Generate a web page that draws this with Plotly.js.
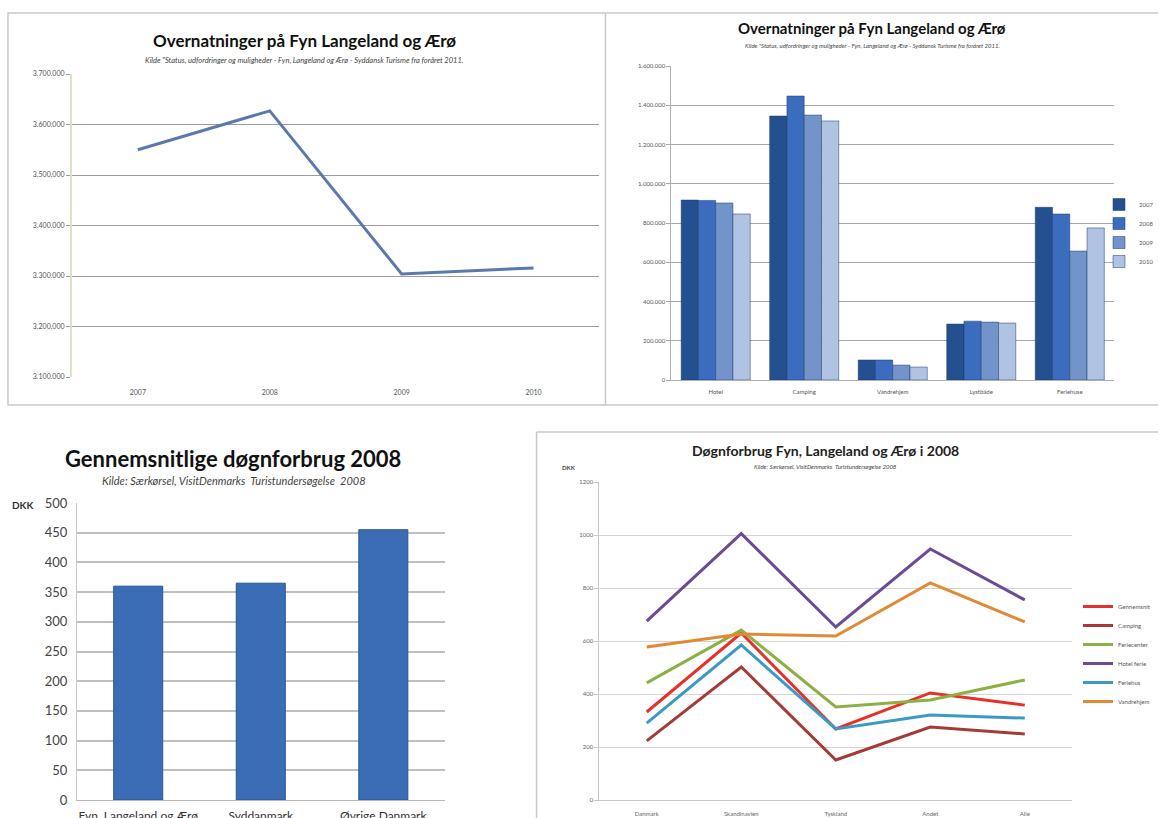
<!DOCTYPE html>
<html><head><meta charset="utf-8">
<script src="https://cdn.plot.ly/plotly-3.0.1.min.js"></script>
<style>html,body{margin:0;padding:0;background:#fff;}#c{width:1159px;height:818px;}</style>
</head><body><div id="c"></div>
<script>
// ---- data ----
const years = ['2007','2008','2009','2010'];
const overnightsTotal = [3550000, 3627000, 3304000, 3316000];

const accTypes = ['Hotel','Camping','Vandrehjem','Lystbåde','Feriehuse'];
const ov2007 = [917000, 1345000, 102000, 285000, 880000];
const ov2008 = [915000, 1447000, 102000, 300000, 846000];
const ov2009 = [902000, 1350000, 76000, 295000, 657000];
const ov2010 = [846000, 1320000, 66000, 290000, 775000];

const regions = ['Fyn, Langeland og Ærø','Syddanmark','Øvrige Danmark'];
const avgSpend = [360, 365, 455];

const markets = ['Danmark','Skandinavien','Tyskland','Andet','Alle'];
const spGennemsnit = [332, 630, 268, 404, 358];
const spCamping = [223, 502, 151, 275, 249];
const spFeriecenter = [442, 641, 351, 377, 453];
const spHotelferie = [675, 1005, 653, 947, 755];
const spFeriehus = [290, 585, 268, 321, 309];
const spVandrehjem = [577, 626, 619, 819, 672];

// ---- helpers ----
const W = 1159, H = 818;
const xd = (a,b) => [a/W, b/W];
const yd = (top,bottom) => [1-bottom/H, 1-top/H];
const px = x => x/W, py = y => 1-y/H;
const F = 'Lato, "Open Sans", sans-serif';

const traces = [];
// chart 1
traces.push({x: years, y: overnightsTotal, type:'scatter', mode:'lines', xaxis:'x', yaxis:'y',
  line:{color:'#5b79ad', width:3}, showlegend:false});
// chart 2
const barCols = ['#24508f','#3b6cbd','#7394cb','#b0c3e3'];
[ov2007, ov2008, ov2009, ov2010].forEach((v,i)=>{
  traces.push({x: accTypes, y: v, type:'bar', name: years[i], xaxis:'x2', yaxis:'y2',
    marker:{color: barCols[i], line:{color:'#1c3a6a', width:0.5}}, legend:'legend'});
});
// chart 3
traces.push({x: regions, y: avgSpend, type:'bar', xaxis:'x3', yaxis:'y3', width:0.4,
  marker:{color:'#3a6db5', line:{color:'#2a558f', width:1}}, showlegend:false});
// chart 4
const lineSeries = [
  ['Gennemsnit', spGennemsnit, '#e8302a'],
  ['Camping', spCamping, '#a53b37'],
  ['Feriecenter', spFeriecenter, '#8cb044'],
  ['Hotel ferie', spHotelferie, '#6b4a97'],
  ['Feriehus', spFeriehus, '#3b9ac4'],
  ['Vandrehjem', spVandrehjem, '#e08a36']
];
lineSeries.forEach(s=>{
  traces.push({x: markets, y: s[1], name: s[0], type:'scatter', mode:'lines', xaxis:'x4', yaxis:'y4',
    line:{color:s[2], width:3}, legend:'legend2'});
});

const tickF = (s,c)=>({family:F, size:s, color:c||'#555'});
const ann = (text, x, y, size, color) => ({text, x:px(x), y:py(y), xref:'paper', yref:'paper',
  xanchor:'center', yanchor:'middle', showarrow:false, font:{family:F, size, color}});

const layout = {
  width: W, height: H, autosize:false,
  margin:{l:0,r:0,t:0,b:0}, paper_bgcolor:'#fff', plot_bgcolor:'rgba(0,0,0,0)',
  separators: ',.',
  bargap: 0.22, bargroupgap: 0,
  font:{family:F},
  // chart 1
  xaxis:{domain: xd(72,600), anchor:'y', type:'category', range:[-0.5, years.length-0.5], showgrid:false, showline:false, zeroline:false,
    tickfont: tickF(7), ticks:'', ticklabelstandoff: 10},
  yaxis:{domain: yd(74,377), anchor:'x', range:[3100000,3700000], dtick:100000, tickformat:',d',
    gridcolor:'#9c9c9c', gridwidth:1, showline:true, linecolor:'#dfe3c6', linewidth:2, zeroline:false,
    ticks:'outside', ticklen:4, tickcolor:'#9c9c9c', tickfont: tickF(7)},
  // chart 2
  xaxis2:{domain: xd(672,1115), anchor:'y2', type:'category', showgrid:false, showline:true, linecolor:'#b0b0b0',
    tickfont: tickF(6), ticks:'', ticklabelstandoff: 6},
  yaxis2:{domain: yd(66,380), anchor:'x2', range:[0,1600000], dtick:200000, tickformat:',d',
    gridcolor:'#a8a8a8', showline:true, linecolor:'#b0b0b0', zeroline:false,
    ticks:'outside', ticklen:4, tickcolor:'#a8a8a8', tickfont: tickF(6)},
  // chart 3
  xaxis3:{domain: xd(77,445), anchor:'y3', type:'category', showgrid:false, showline:true, linecolor:'#b8b8b8',
    tickfont: tickF(12,'#333'), ticks:'', ticklabelstandoff: 5},
  yaxis3:{domain: yd(503,800), anchor:'x3', range:[0,500], dtick:50,
    gridcolor:'#c0c0c0', gridwidth:2, showline:true, linecolor:'#c8c8c8', zeroline:false,
    ticks:'', tickfont: tickF(13,'#444'), ticklabelstandoff: 6},
  // chart 4
  xaxis4:{domain: xd(600,1073), anchor:'y4', type:'category', range:[-0.5, markets.length-0.5], showgrid:false, showline:true, linecolor:'#c8c8c8',
    tickfont: tickF(6,'#666'), ticks:'', ticklabelstandoff: 8},
  yaxis4:{domain: yd(482,800), anchor:'x4', range:[0,1200], dtick:200,
    gridcolor:'#d4d4d4', showline:true, linecolor:'#c8c8c8', zeroline:false,
    ticks:'outside', ticklen:4, tickcolor:'#c8c8c8', tickfont: tickF(6,'#666')},
  legend:{x: px(1100), y: py(190), xanchor:'left', yanchor:'top', font:{family:F, size:6, color:'#555'},
    bgcolor:'rgba(0,0,0,0)', itemwidth:30, tracegroupgap:0},
  legend2:{x: px(1078), y: py(592), xanchor:'left', yanchor:'top', font:{family:F, size:6, color:'#555'},
    bgcolor:'rgba(0,0,0,0)', itemwidth:30, tracegroupgap:0},
  shapes:[
    {type:'rect', xref:'paper', yref:'paper', x0:px(8), x1:px(606), y0:py(405), y1:py(13), line:{color:'#c8c8c8', width:1.5}},
    {type:'line', xref:'paper', yref:'paper', x0:px(606), x1:px(1159), y0:py(13), y1:py(13), line:{color:'#c8c8c8', width:1.5}},
    {type:'line', xref:'paper', yref:'paper', x0:px(606), x1:px(1159), y0:py(405), y1:py(405), line:{color:'#c8c8c8', width:1.5}},
    {type:'line', xref:'paper', yref:'paper', x0:px(537), x1:px(1159), y0:py(432), y1:py(432), line:{color:'#c8c8c8', width:1.5}},
    {type:'line', xref:'paper', yref:'paper', x0:px(537), x1:px(537), y0:py(432), y1:py(818), line:{color:'#c8c8c8', width:1.5}}
  ],
  annotations:[
    ann('<b>Overnatninger på Fyn Langeland og Ærø</b>', 305, 40, 17, '#111'),
    ann('<i>Kilde "Status, udfordringer og muligheder - Fyn, Langeland og Ærø - Syddansk Turisme fra foråret 2011.</i>', 305, 60, 7.5, '#444'),
    ann('<b>Overnatninger på Fyn Langeland og Ærø</b>', 873, 28, 15, '#111'),
    ann('<i>Kilde "Status, udfordringer og muligheder - Fyn, Langeland og Ærø - Syddansk Turisme fra foråret 2011.</i>', 873, 46, 6, '#444'),
    ann('<b>Gennemsnitlige døgnforbrug 2008</b>', 233, 458, 22, '#111'),
    ann('<i>Kilde: Særkørsel, VisitDenmarks  Turistundersøgelse  2008</i>', 234, 481, 11, '#444'),
    ann('<b>DKK</b>', 23, 505, 10, '#333'),
    ann('<b>Døgnforbrug Fyn, Langeland og Ærø i 2008</b>', 826, 450, 14, '#222'),
    ann('<i>Kilde: Særkørsel, VisitDenmarks  Turistundersøgelse 2008</i>', 826, 466, 6, '#444'),
    ann('<b>DKK</b>', 569, 467, 6, '#444')
  ]
};
Plotly.newPlot('c', traces, layout, {staticPlot:true, displayModeBar:false});
</script>
</body></html>
